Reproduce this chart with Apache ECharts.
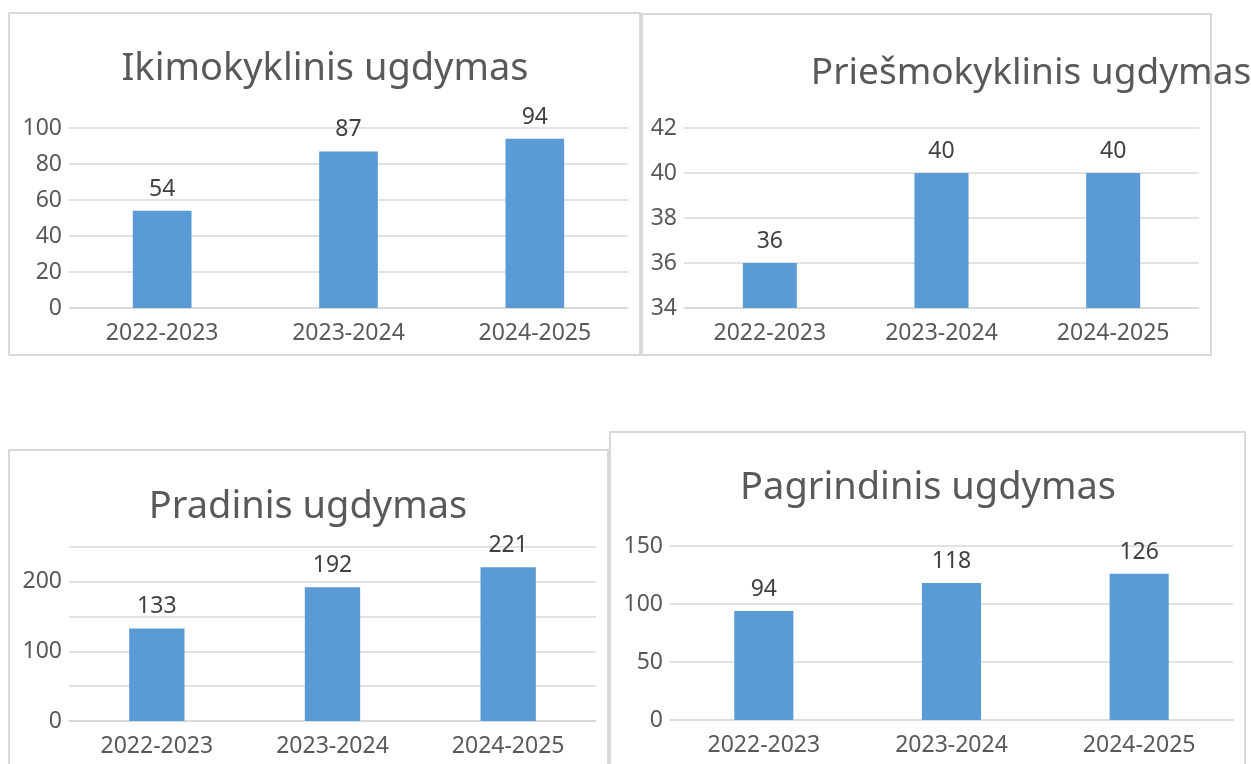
<!DOCTYPE html>
<html>
<head>
<meta charset="utf-8">
<title>Ugdymas</title>
<script src="https://cdn.jsdelivr.net/npm/echarts@6/dist/echarts.min.js"></script>
<style>
html, body { margin: 0; padding: 0; background: #fff; }
#main { width: 1251px; height: 764px; }
</style>
</head>
<body>
<div id="main"></div>
<script>
// duomenys
var years = ['2022-2023', '2023-2024', '2024-2025'];
var ikimokyklinis = [54, 87, 94];
var priesmokyklinis = [36, 40, 40];
var pradinis = [133, 192, 221];
var pagrindinis = [94, 118, 126];
var chartTitles = ['Ikimokyklinis ugdymas', 'Priešmokyklinis ugdymas', 'Pradinis ugdymas', 'Pagrindinis ugdymas'];
// y ašys: min, max, tinklelio žingsnis, etikečių žingsnis
var axisMin = [0, 34, 0, 0];
var axisMax = [100, 42, 250, 150];
var axisStep = [20, 2, 50, 50];
var labelStep = [20, 2, 100, 50];

var chart = echarts.init(document.getElementById('main'));

var seriesData = [ikimokyklinis, priesmokyklinis, pradinis, pagrindinis];

// rėmeliai ir braižymo sritys
var panels = [
    {x: 9, y: 13, w: 631, h: 342},
    {x: 642, y: 14, w: 569, h: 341},
    {x: 9, y: 450, w: 599, h: 340},
    {x: 610, y: 432, w: 635, h: 360}
];
var grids = [
    {left: 69, top: 128, width: 559, height: 180},
    {left: 684, top: 128, width: 515, height: 180},
    {left: 69, top: 547, width: 527, height: 174},
    {left: 670, top: 546, width: 563, height: 174}
];
var titlePos = [[325, 69], [1031, 73], [308, 507], [928, 488]];
var titleSize = [38, 37, 38, 38];

var textColor = '#595959';
var lineColor = '#d9d9d9';

var graphic = [];
panels.forEach(function (p) {
    graphic.push({
        type: 'rect',
        shape: {x: p.x, y: p.y, width: p.w, height: p.h},
        style: {fill: 'none', stroke: lineColor, lineWidth: 2},
        z: 0
    });
});
chartTitles.forEach(function (t, i) {
    graphic.push({
        type: 'text',
        x: titlePos[i][0],
        y: titlePos[i][1],
        z: 10,
        style: {
            text: t,
            fill: textColor,
            font: titleSize[i] + 'px "Noto Sans"',
            textAlign: 'center',
            textVerticalAlign: 'middle'
        }
    });
});

var xAxes = [], yAxes = [], series = [];
seriesData.forEach(function (data, i) {
    xAxes.push({
        type: 'category',
        gridIndex: i,
        data: years,
        axisTick: {show: false},
        axisLine: {lineStyle: {color: lineColor, width: 1.5}},
        axisLabel: {color: textColor, fontSize: 23, margin: 14}
    });
    yAxes.push({
        type: 'value',
        gridIndex: i,
        min: axisMin[i],
        max: axisMax[i],
        interval: axisStep[i],
        axisLine: {show: false},
        axisTick: {show: false},
        splitLine: {lineStyle: {color: lineColor, width: 1.5}},
        axisLabel: {
            color: textColor,
            fontSize: 23,
            margin: 7,
            formatter: function (v) {
                return (v - axisMin[i]) % labelStep[i] === 0 ? String(v) : '';
            }
        }
    });
    series.push({
        type: 'bar',
        xAxisIndex: i,
        yAxisIndex: i,
        data: data,
        barWidth: '31.5%',
        itemStyle: {color: '#5b9bd5'},
        label: {
            show: true,
            position: 'top',
            distance: 10,
            color: '#404040',
            fontSize: 23
        }
    });
});

var option = {
    animation: false,
    textStyle: {fontFamily: 'Noto Sans'},
    grid: grids,
    xAxis: xAxes,
    yAxis: yAxes,
    series: series,
    graphic: graphic
};

chart.setOption(option);
</script>
</body>
</html>
